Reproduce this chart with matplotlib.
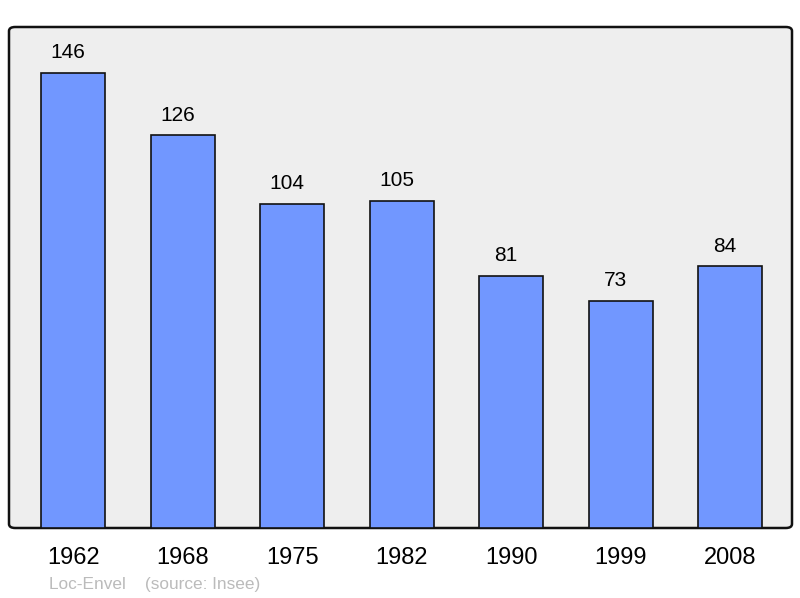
import matplotlib
matplotlib.use("Agg")
import matplotlib.pyplot as plt
from matplotlib.patches import FancyBboxPatch

years = ["1962", "1968", "1975", "1982", "1990", "1999", "2008"]
population = [146, 126, 104, 105, 81, 73, 84]

plt.rcParams['font.family'] = ['Liberation Sans', 'DejaVu Sans']

fig = plt.figure(figsize=(8, 5.98), dpi=100)
ax = fig.add_axes([9 / 800, 70 / 598, 783 / 800, 501 / 598])
ax.set_facecolor('none')
for s in ax.spines.values():
    s.set_visible(False)

# rounded frame behind the bars
frame = FancyBboxPatch((0, 0), 1, 1, boxstyle="round,pad=0,rounding_size=0.008",
                       transform=ax.transAxes, facecolor='#eeeeee',
                       edgecolor='#111111', linewidth=1.8, zorder=0, clip_on=False)
ax.add_patch(frame)

x = list(range(len(years)))
ax.bar(x, population, width=0.585, color='#7197ff', edgecolor='#111111',
       linewidth=1.2, zorder=2)

for xi, v in zip(x, population):
    ax.annotate(str(v), (xi, v), xytext=(-3.6, 14.6), textcoords='offset points',
                ha='center', va='center', fontsize=15, color='#000000')

ax.set_xlim(-0.585, 6.565)
ax.set_ylim(0, 160.8)
ax.set_xticks(x)
ax.set_xticklabels(years, fontsize=17)
ax.tick_params(axis='x', length=0, pad=13.5)
ax.set_yticks([])

fig.text(49 / 800, 1 - 584 / 598, "Loc-Envel    (source: Insee)", fontsize=12.4,
         color='#bbbbbb', ha='left', va='center')

fig.savefig("out.png", dpi=100)
